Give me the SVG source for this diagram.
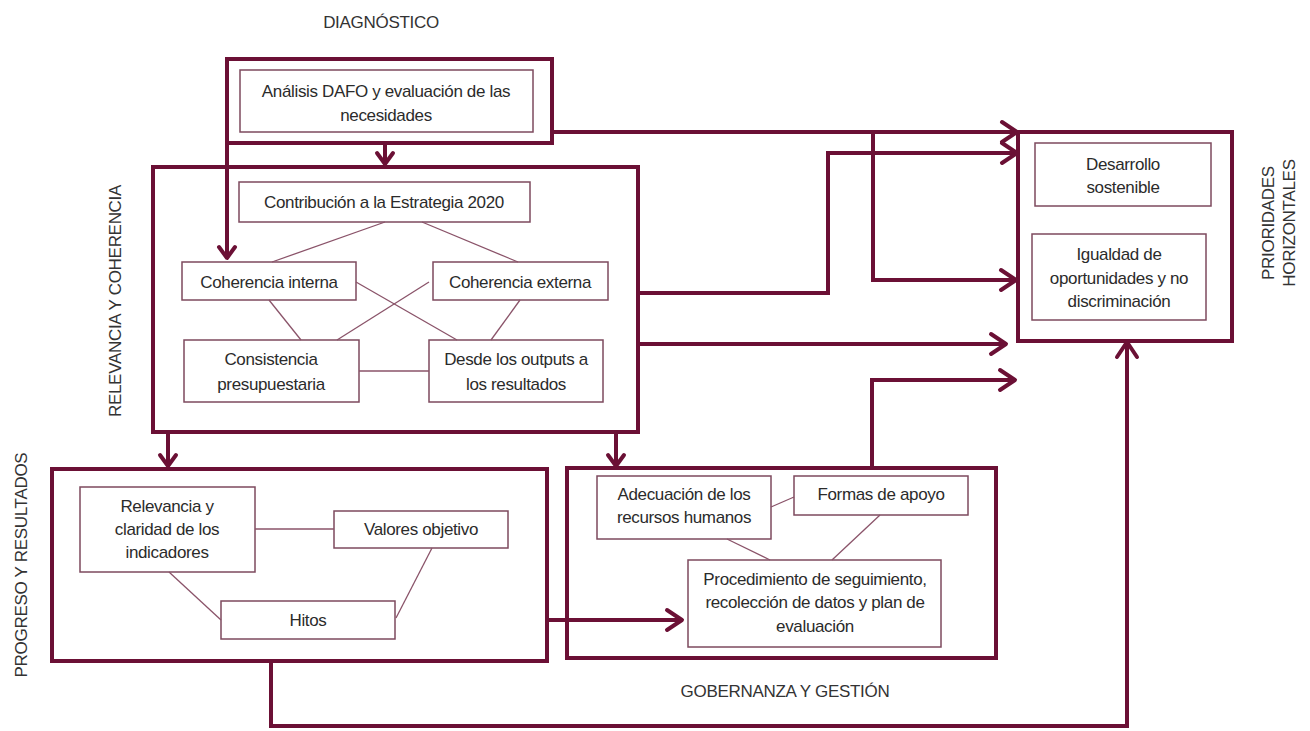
<svg xmlns="http://www.w3.org/2000/svg" width="1310" height="731" viewBox="0 0 1310 731">
<style>
.bg{fill:#ffffff}
.frame{fill:none;stroke:#6b1035;stroke-width:4}
.box{fill:#ffffff;stroke:#7d4a5e;stroke-width:1.5}
.link{fill:none;stroke:#8a5369;stroke-width:1.3}
.conn{fill:none;stroke:#6b1035;stroke-width:4}
.t{font-family:"Liberation Sans",Arial,sans-serif;font-size:17px;fill:#2b2b2b;text-anchor:middle;letter-spacing:-0.35px}
.h{font-family:"Liberation Sans",Arial,sans-serif;font-size:17px;fill:#333333;text-anchor:middle;letter-spacing:-0.3px}
</style>
<defs>
<marker id="arr" markerUnits="userSpaceOnUse" viewBox="-20 -14 24 28" markerWidth="24" markerHeight="28" refX="0" refY="0" orient="auto">
<path d="M-15,-10 L0,0 L-15,10" fill="none" stroke="#6b1035" stroke-width="4" stroke-linecap="round" stroke-linejoin="round"/>
</marker>
<marker id="arrS" markerUnits="userSpaceOnUse" viewBox="-16 -12 20 24" markerWidth="20" markerHeight="24" refX="0" refY="0" orient="auto">
<path d="M-11,-8 L0,0 L-11,8" fill="none" stroke="#6b1035" stroke-width="4" stroke-linecap="round" stroke-linejoin="round"/>
</marker>
</defs>
<rect class="bg" x="0" y="0" width="1310" height="731"/>

<g id="connectors">
<path class="conn" d="M385,143 V164" marker-end="url(#arrS)"/>
<path class="conn" d="M227,143 V258" marker-end="url(#arrS)"/>
<path class="conn" d="M552,132 H1017" marker-end="url(#arr)"/>
<path class="conn" d="M873,132 V280 H1016" marker-end="url(#arr)"/>
<path class="conn" d="M638,293 H828 V153 H1017" marker-end="url(#arr)"/>
<path class="conn" d="M638,344 H1006" marker-end="url(#arr)"/>
<path class="conn" d="M872,468 V380 H1015" marker-end="url(#arr)"/>
<path class="conn" d="M168,432 V466" marker-end="url(#arrS)"/>
<path class="conn" d="M616,432 V466" marker-end="url(#arrS)"/>
<path class="conn" d="M547,620 H682" marker-end="url(#arr)"/>
<path class="conn" d="M271,662 V726 H1127 V342" marker-end="url(#arr)"/>
</g>

<g id="diagnostico">
<text class="h" x="381" y="28">DIAGNÓSTICO</text>
<rect class="frame" x="227" y="59" width="325" height="84"/>
<g id="analisis">
<rect class="box" x="240" y="70" width="293" height="62"/>
<text class="t" x="386" y="97">Análisis DAFO y evaluación de las</text>
<text class="t" x="386" y="121">necesidades</text>
</g>
</g>

<g id="relevancia">
<rect class="frame" x="153" y="167" width="485" height="265"/>
<text class="h" transform="translate(121,301) rotate(-90)" x="0" y="0">RELEVANCIA Y COHERENCIA</text>
<g id="contribucion">
<rect class="box" x="239" y="182" width="291" height="40"/>
<text class="t" x="384" y="208">Contribución a la Estrategia 2020</text>
</g>
<g id="coh-interna">
<rect class="box" x="182" y="262" width="174" height="38"/>
<text class="t" x="269" y="288">Coherencia interna</text>
</g>
<g id="coh-externa">
<rect class="box" x="433" y="262" width="175" height="38"/>
<text class="t" x="520" y="288">Coherencia externa</text>
</g>
<g id="consistencia">
<rect class="box" x="184" y="340" width="175" height="62"/>
<text class="t" x="271" y="365">Consistencia</text>
<text class="t" x="271" y="390">presupuestaria</text>
</g>
<g id="desde">
<rect class="box" x="429" y="340" width="174" height="62"/>
<text class="t" x="516" y="365">Desde los outputs a</text>
<text class="t" x="516" y="390">los resultados</text>
</g>
<g id="rel-links">
<path class="link" d="M385,222 L272,262"/>
<path class="link" d="M422,222 L518,262"/>
<path class="link" d="M269,300 L301,340"/>
<path class="link" d="M356,282 L457,340"/>
<path class="link" d="M429,282 L337,340"/>
<path class="link" d="M520,300 L491,340"/>
<path class="link" d="M359,371 H429"/>
</g>
</g>

<g id="prioridades">
<rect class="frame" x="1018" y="132" width="214" height="209"/>
<text class="h" transform="translate(1274,223) rotate(-90)" x="0" y="0">PRIORIDADES</text>
<text class="h" transform="translate(1295,223) rotate(-90)" x="0" y="0">HORIZONTALES</text>
<g id="desarrollo">
<rect class="box" x="1035" y="143" width="176" height="63"/>
<text class="t" x="1123" y="170">Desarrollo</text>
<text class="t" x="1123" y="193">sostenible</text>
</g>
<g id="igualdad">
<rect class="box" x="1032" y="234" width="174" height="86"/>
<text class="t" x="1119" y="260">Igualdad de</text>
<text class="t" x="1119" y="284">oportunidades y no</text>
<text class="t" x="1119" y="307">discriminación</text>
</g>
</g>

<g id="progreso">
<rect class="frame" x="52" y="469" width="495" height="192"/>
<text class="h" transform="translate(27,565) rotate(-90)" x="0" y="0">PROGRESO Y RESULTADOS</text>
<g id="relevancia-ind">
<rect class="box" x="80" y="487" width="175" height="85"/>
<text class="t" x="167" y="512">Relevancia y</text>
<text class="t" x="167" y="535">claridad de los</text>
<text class="t" x="167" y="558">indicadores</text>
</g>
<g id="valores">
<rect class="box" x="334" y="511" width="174" height="37"/>
<text class="t" x="421" y="535">Valores objetivo</text>
</g>
<g id="hitos">
<rect class="box" x="221" y="601" width="174" height="38"/>
<text class="t" x="308" y="626">Hitos</text>
</g>
<g id="prog-links">
<path class="link" d="M255,529 H334"/>
<path class="link" d="M169,572 L221,620"/>
<path class="link" d="M432,548 L396,618"/>
</g>
</g>

<g id="gobernanza">
<rect class="frame" x="567" y="468" width="429" height="190"/>
<text class="h" x="785" y="697">GOBERNANZA Y GESTIÓN</text>
<g id="adecuacion">
<rect class="box" x="597" y="476" width="174" height="63"/>
<text class="t" x="684" y="500">Adecuación de los</text>
<text class="t" x="684" y="523">recursos humanos</text>
</g>
<g id="formas">
<rect class="box" x="794" y="476" width="174" height="39"/>
<text class="t" x="881" y="500">Formas de apoyo</text>
</g>
<g id="procedimiento">
<rect class="box" x="688" y="560" width="253" height="87"/>
<text class="t" x="815" y="585">Procedimiento de seguimiento,</text>
<text class="t" x="815" y="608">recolección de datos y plan de</text>
<text class="t" x="815" y="632">evaluación</text>
</g>
<g id="gob-links">
<path class="link" d="M771,507 L794,497"/>
<path class="link" d="M727,539 L770,560"/>
<path class="link" d="M880,515 L832,560"/>
</g>
</g>
</svg>
